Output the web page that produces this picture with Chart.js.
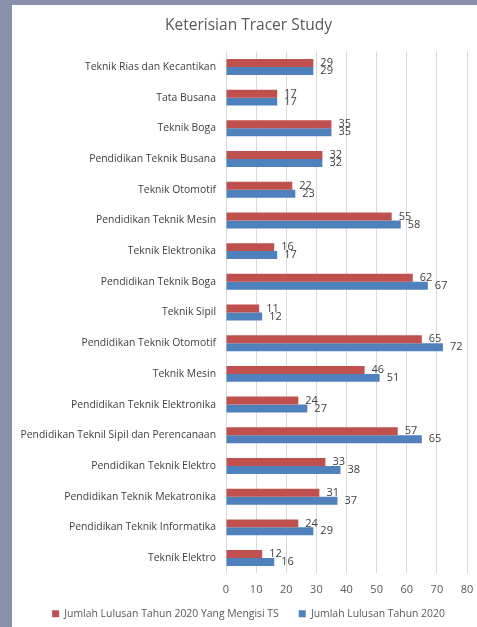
<!DOCTYPE html>
<html>
<head>
<meta charset="utf-8">
<script src="https://cdn.jsdelivr.net/npm/chart.js@4"></script>
<style>
  html, body { margin: 0; padding: 0; }
  body { width: 477px; height: 627px; background: #8890ab; position: relative; overflow: hidden; }
  #panel { position: absolute; left: 12px; top: 5px; width: 465px; height: 622px; background: #ffffff; }
</style>
</head>
<body>
<div id="panel"><canvas id="chart" width="465" height="622"></canvas></div>
<script>
const labels = [
  "Teknik Rias dan Kecantikan",
  "Tata Busana",
  "Teknik Boga",
  "Pendidikan Teknik Busana",
  "Teknik Otomotif",
  "Pendidikan Teknik Mesin",
  "Teknik Elektronika",
  "Pendidikan Teknik Boga",
  "Teknik Sipil",
  "Pendidikan Teknik Otomotif",
  "Teknik Mesin",
  "Pendidikan Teknik Elektronika",
  "Pendidikan Teknil Sipil dan Perencanaan",
  "Pendidikan Teknik Elektro",
  "Pendidikan Teknik Mekatronika",
  "Pendidikan Teknik Informatika",
  "Teknik Elektro"
];
const mengisiTS = [29, 17, 35, 32, 22, 55, 16, 62, 11, 65, 46, 24, 57, 33, 31, 24, 12];
const lulusan = [29, 17, 35, 32, 23, 58, 17, 67, 12, 72, 51, 27, 65, 38, 37, 29, 16];
const xTicks = [0, 10, 20, 30, 40, 50, 60, 70, 80];

const FONT = "'Open Sans', sans-serif";
const GREY = "#595959";

// value next to the end of each bar
const barValues = {
  id: "barValues",
  afterDatasetsDraw(chart) {
    const ctx = chart.ctx;
    ctx.save();
    ctx.font = "11px " + FONT;
    ctx.fillStyle = "#404040";
    ctx.textAlign = "left";
    ctx.textBaseline = "middle";
    chart.data.datasets.forEach((ds, i) => {
      chart.getDatasetMeta(i).data.forEach((bar, j) => {
        ctx.fillText(ds.data[j], bar.x + 7, bar.y);
      });
    });
    ctx.restore();
  }
};

// pull the legend row up closer to the axis labels
const legendLift = {
  id: "legendLift",
  afterLayout(chart) {
    chart.legend.top -= 17;
    chart.legend.bottom -= 17;
  }
};

const ctx = document.getElementById("chart").getContext("2d");

const chart = new Chart(ctx, {
  type: "bar",
  data: {
    labels: labels,
    datasets: [{
      label: "Jumlah Lulusan Tahun 2020 Yang Mengisi TS",
      data: mengisiTS,
      backgroundColor: "#c0504d",
      borderWidth: 0,
      categoryPercentage: 0.52,
      barPercentage: 1
    }, {
      label: "Jumlah Lulusan Tahun 2020",
      data: lulusan,
      backgroundColor: "#4f81bd",
      borderWidth: 0,
      categoryPercentage: 0.52,
      barPercentage: 1
    }]
  },
  options: {
    indexAxis: "y",
    responsive: false,
    animation: false,
    layout: { padding: { left: 8, right: 0, top: 0, bottom: -19 } },
    scales: {
      x: {
        min: 0,
        max: 80,
        afterBuildTicks: (scale) => { scale.ticks = xTicks.map((v) => ({ value: v })); },
        afterFit: (scale) => { scale.paddingRight = 10; scale.paddingLeft = 0; },
        grid: { color: "#d9d9d9", drawTicks: false },
        border: { display: false },
        ticks: { color: GREY, font: { family: FONT, size: 11 }, padding: 9.5 }
      },
      y: {
        afterFit: (scale) => { scale.width = 206; },
        grid: { display: false, drawTicks: false },
        border: { display: false },
        ticks: { color: "#404040", font: { family: FONT, size: 10.4 }, padding: 10, autoSkip: false }
      }
    },
    plugins: {
      title: {
        display: true,
        text: "Keterisian Tracer Study",
        color: GREY,
        font: { family: FONT, size: 15.5, weight: "normal" },
        padding: { top: 11, bottom: 17 }
      },
      legend: {
        position: "bottom",
        labels: {
          color: GREY,
          font: { family: FONT, size: 10.4 },
          boxWidth: 7,
          boxHeight: 7,
          padding: 20
        }
      },
      tooltip: { enabled: false }
    }
  },
  plugins: [barValues, legendLift]
});
</script>
</body>
</html>
